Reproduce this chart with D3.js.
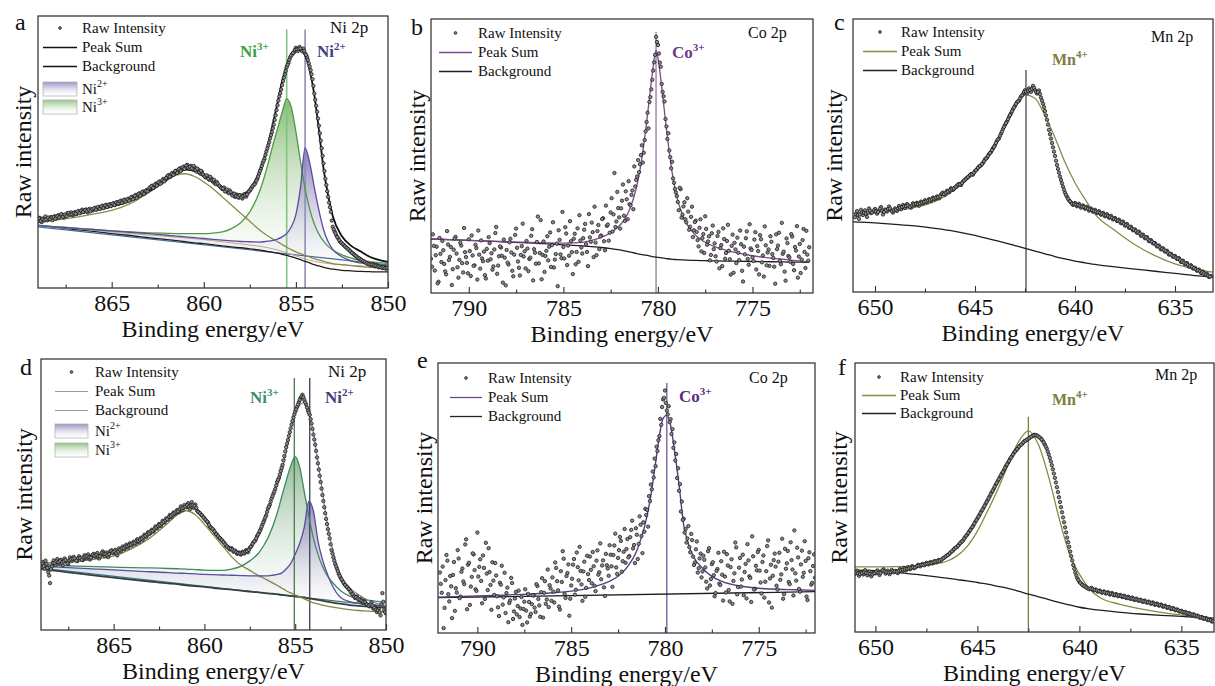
<!DOCTYPE html>
<html>
<head>
<meta charset="utf-8">
<script src="https://cdn.jsdelivr.net/npm/d3@7"></script>
<style>
  body { margin: 0; background: #fff; }
  svg, svg text { font-family: "Liberation Serif", "Times New Roman", serif; }
</style>
</head>
<body>
<script>
var FONT = '"Liberation Serif", "Times New Roman", serif';

// ---- fitted curves (intensity in a.u., 0 = frame bottom, 100 = frame top)
var niGrid = [869, 868, 867, 866, 865, 864, 863, 862, 861.5, 861, 860.5, 860, 859.5, 859, 858.5, 858, 857.5, 857,
  856.75, 856.5, 856.25, 856, 855.75, 855.5, 855.25, 855, 854.75, 854.5, 854.25, 854, 853.75, 853.5, 853.25, 853,
  852.5, 852, 851.5, 851, 850.5, 850];

var sumA = [25, 26, 27.5, 28.7, 30, 32, 35.5, 40, 42, 43.5, 43, 41, 39, 37, 35.3, 34.3, 36.5, 42.5, 47.5, 53, 60.5, 68,
  76, 82, 86, 87.5, 87.5, 85.5, 80, 71, 58, 44, 34, 26.5, 19, 15.5, 13.5, 11.5, 10.3, 9.6];
var bgA = [23, 22.3, 21.5, 20.8, 20, 19.3, 18.5, 17.8, 17.4, 17, 16.6, 16.3, 15.9, 15.5, 15.1, 14.8, 14.4, 14, 13.7,
  13.4, 13.1, 12.8, 12.4, 12, 11.5, 11, 10.4, 9.8, 9.2, 8.6, 8.1, 7.6, 7.2, 6.9, 6.5, 6.3, 6.1, 6, 5.9, 5.9];
var ni3A = [23, 22.5, 22, 21.5, 21, 20.6, 20.3, 20.1, 20, 20, 20, 20, 20.2, 20.6, 21.8, 24, 28, 35, 40, 46, 52.5, 58.5,
  64.5, 69.5, 66.5, 57.5, 46.5, 36.5, 29, 23.5, 19.8, 17.2, 15.3, 14, 12.2, 11, 10.2, 9.7, 9.3, 9];
var ni2A = [23, 22.5, 22, 21.5, 21, 20.5, 20, 19.4, 19.1, 18.8, 18.5, 18.2, 17.9, 17.6, 17.3, 17.1, 17, 16.9, 17, 17.2,
  17.5, 18, 18.8, 20, 22.5, 27, 37, 51.5, 46, 37, 28.5, 21.5, 17, 14.2, 11.5, 10, 9.2, 8.7, 8.3, 8];
var satA = [24, 25, 26, 27.2, 28.5, 31, 35, 39.5, 41.5, 42, 41, 39, 36.5, 33.5, 30.5, 27.5, 24.5, 21.5, 20.2, 19, 18,
  17, 16, 15, 14.1, 13.3, 12.6, 12, 11.4, 10.8, 10.3, 9.8, 9.4, 9, 8.6, 8.2, 7.9, 7.6, 7.4, 7.3];
var tanA = [23, 22.4, 21.8, 21.2, 20.6, 20, 19.5, 19, 18.7, 18.4, 18.1, 17.8, 17.4, 17, 16.6, 16.2, 15.8, 15.4, 15.1,
  14.8, 14.4, 14, 13.5, 13, 12.4, 11.8, 11.2, 10.7, 10.2, 9.8, 9.5, 9.2, 9, 8.8, 8.5, 8.3, 8.1, 8, 7.9, 7.8];

var sumD = [24.5, 25.3, 26, 26.8, 28, 31, 35, 40.5, 43, 45, 44.5, 41.5, 37, 33, 30, 28.5, 30, 36, 40.5, 45, 49, 53, 58,
  65.5, 74, 80, 83, 84, 80, 73, 62, 51, 40, 31.5, 20, 15.5, 13, 11, 9.8, 9];
var bgD = [22.5, 21.7, 20.9, 20.1, 19.3, 18.6, 17.9, 17.2, 16.9, 16.5, 16.2, 15.9, 15.5, 15.2, 14.9, 14.5, 14.2, 13.9,
  13.7, 13.5, 13.4, 13.2, 13, 12.8, 12.6, 12.4, 12.2, 12, 11.7, 11.4, 11.1, 10.8, 10.5, 10.2, 9.7, 9.2, 8.9, 8.6, 8.4, 8.2];
var ni3D = [24, 23.8, 23.6, 23.4, 23.2, 23, 22.9, 22.7, 22.6, 22.5, 22.3, 22.1, 22, 22, 22.5, 23.5, 25.5, 28.5, 31, 34,
  38, 43, 49, 55, 60.5, 64, 60, 51, 42, 34, 28, 23.5, 20.2, 18, 14.5, 12.5, 11.6, 11, 10.6, 10.3];
var ni2D = [23.5, 23.2, 22.8, 22.5, 22.2, 21.8, 21.5, 21.2, 21, 20.9, 20.7, 20.5, 20.4, 20.3, 20.2, 20.1, 20, 20, 20, 20,
  20.2, 20.5, 21, 22.5, 24.5, 28, 32, 38, 47.5, 44, 33, 26, 21, 17, 12, 10.5, 9.9, 9.5, 9.2, 9];
var satD = [24, 24.6, 25.3, 26.2, 27.3, 30, 34, 39.5, 42.5, 44, 42.5, 39, 35, 31, 27, 24, 22, 20, 19.2, 18.3, 17.4,
  16.5, 15.5, 14.5, 13.7, 13, 12.2, 11.5, 10.7, 10, 9.6, 9.2, 8.8, 8.5, 8, 7.5, 7.2, 7, 6.8, 6.6];

var linGrid = [869, 850];
var linA = [22.5, 8.5];
var linD = [22.8, 8.6];

var coGridB = [792, 790, 788, 786, 785, 784, 783.5, 783, 782.5, 782, 781.75, 781.5, 781.25, 781, 780.75, 780.5, 780.3,
  780.1, 779.9, 779.7, 779.5, 779.25, 779, 778.75, 778.5, 778, 777.5, 777, 776, 775, 774, 773, 772];
var sumB = [19.7, 19.2, 18.7, 18.3, 18.2, 18.5, 19.2, 20.3, 22, 24.8, 27, 30.5, 35.5, 43, 54, 68, 80, 88.5, 81, 69, 57,
  44, 35, 29.5, 25.5, 21, 18.5, 16.9, 14.9, 13.6, 12.7, 12, 11.4];
var bgB = [19.7, 19.2, 18.6, 18, 17.6, 17.2, 16.9, 16.6, 16.2, 15.7, 15.4, 15, 14.6, 14.2, 13.9, 13.6, 13.3, 13.1, 12.9,
  12.7, 12.5, 12.3, 12.2, 12.1, 12, 11.9, 11.8, 11.7, 11.6, 11.5, 11.4, 11.3, 11.2];

var coGridE = [792.1, 790, 788, 786, 785, 784, 783, 782.5, 782, 781.5, 781.25, 781, 780.75, 780.5, 780.25, 780.1, 779.9,
  779.7, 779.5, 779.25, 779, 778.75, 778.5, 778, 777.5, 777, 776, 775, 774, 773, 772];
var sumE = [13.3, 13.7, 14.2, 14.9, 15.5, 16.7, 19, 21, 24.5, 30.5, 35.5, 42, 51, 63, 75, 79.5, 80.7, 77, 68, 55, 40,
  33, 28.5, 24, 21, 19.2, 17.4, 16.6, 16.2, 16, 15.8];
var bgGridE = [792.1, 772];
var bgE = [13.1, 15.3];

var mnGridC = [651.1, 650, 649, 648, 647, 646, 645.5, 645, 644.5, 644, 643.5, 643, 642.5, 642, 641.5, 641, 640.5, 640,
  639.5, 639, 638, 637, 636, 635, 634, 633.1];
var sumC = [28.9, 29.3, 29.8, 31, 33.2, 37.5, 40.5, 44, 48.5, 54, 61, 68, 72.2, 71, 64.5, 56.5, 47.5, 40, 34, 28.5, 22.5,
  17.3, 13.3, 10.3, 8.4, 7.3];
var bgC = [25.7, 25.3, 24.8, 24.2, 23.3, 22.2, 21.5, 20.7, 19.8, 18.9, 18, 17, 16, 15, 14, 13, 12.1, 11.3, 10.7, 10.1,
  9.2, 8.4, 7.6, 6.8, 6, 5.5];

var mnGridF = [651, 650, 649, 648, 647, 646.5, 646, 645.5, 645, 644.5, 644, 643.5, 643, 642.5, 642, 641.5, 641, 640.5,
  640, 639.5, 639, 638, 637, 636, 635, 634, 633.4];
var sumF = [24.2, 24.2, 24.3, 24.6, 25.3, 26.3, 28.3, 31.8, 37.5, 45, 53, 62, 70.5, 74.8, 69.5, 57.5, 42.5, 29.4, 21.5,
  16, 12.8, 10.3, 8.6, 7.3, 6.3, 5.6, 5.2];
var bgF = [23, 22.8, 22.2, 21.4, 20.5, 20, 19.5, 19, 18.4, 17.8, 17, 16.2, 15.2, 14.1, 13.1, 12, 11, 10.1, 9.2, 8.6,
  8.1, 7.3, 6.7, 6.2, 5.8, 5.4, 5.2];

// ---- raw intensity, one value every 0.1 eV from the start energy downwards
// (two sweeps per spectrum, the second offset by half a step)
var rawStep = 0.1;
var rawStartA = 869;
var rawA = [24.5, 25.8, 24.2, 25.6, 26.3, 24.9, 25.4, 26.1, 25.0, 26.4,
  25.7, 26.8, 26.2, 27.0, 25.9, 26.6, 27.5, 26.9, 27.8, 26.7,
  27.9, 27.2, 28.3, 27.6, 28.8, 28.0, 28.9, 27.8, 29.1, 28.4,
  28.6, 29.5, 28.9, 29.8, 29.2, 30.3, 29.6, 30.6, 29.9, 30.8,
  30.4, 31.2, 30.7, 31.6, 31.0, 32.1, 31.4, 32.5, 31.9, 32.8,
  32.4, 33.5, 32.9, 34.2, 33.6, 34.8, 34.3, 35.5, 34.9, 36.0,
  36.2, 36.8, 37.6, 37.1, 38.4, 38.0, 39.2, 38.7, 40.1, 39.6,
  40.8, 41.5, 41.0, 42.3, 42.0, 43.1, 42.6, 44.0, 43.5, 44.6,
  44.2, 45.3, 43.8, 44.9, 43.6, 44.4, 42.8, 43.5, 42.1, 42.7,
  41.5, 40.6, 41.2, 39.8, 40.3, 39.1, 38.5, 39.0, 37.8, 37.2,
  36.4, 36.9, 35.8, 35.2, 35.9, 34.6, 34.1, 33.5, 34.3, 33.2,
  33.8, 32.9, 34.5, 33.6, 35.1, 35.8, 36.9, 37.8, 38.6, 40.1,
  42.0, 43.8, 46.0, 47.5, 50.2, 52.4, 55.0, 57.3, 60.1, 63.5,
  67.2, 70.4, 73.0, 76.1, 78.5, 81.2, 82.8, 84.9, 86.0, 86.7,
  88.3, 87.1, 88.6, 87.4, 88.0, 86.2, 85.0, 82.6, 80.1, 76.8,
  71.5, 67.0, 62.3, 56.9, 51.4, 45.8, 40.2, 35.6, 31.4, 28.0,
  22.5, 20.8, 19.3, 18.2, 17.0, 16.4, 15.8, 15.1, 14.5, 13.9,
  13.2, 12.6, 12.1, 11.5, 11.0, 10.6, 10.1, 9.7, 9.3, 9.0,
  8.7, 8.4, 8.8, 8.0, 8.3, 7.6, 7.9, 7.3, 7.7, 7.1,
  7.5];
var rawStartA2 = 868.95;
var rawA2 = [25.6, 24.7, 25.3, 25.0, 25.2, 25.9, 25.3, 25.9, 26.1, 25.5,
  26.4, 25.9, 27.1, 26.2, 27.0, 26.4, 27.6, 27.0, 27.1, 27.5,
  27.3, 28.1, 27.5, 28.4, 27.9, 28.6, 28.2, 28.8, 28.2, 29.0,
  29.3, 28.8, 29.7, 29.1, 30.0, 29.4, 30.4, 29.8, 30.6, 30.1,
  31.0, 30.5, 31.4, 31.1, 31.8, 31.3, 32.3, 31.8, 32.6, 32.1,
  33.3, 32.6, 33.9, 33.0, 34.6, 34.0, 35.2, 34.6, 35.7, 35.5,
  36.9, 37.4, 36.8, 38.0, 37.6, 38.9, 38.3, 39.6, 39.2, 40.4,
  41.3, 40.9, 42.0, 41.6, 43.0, 42.3, 43.7, 43.0, 44.4, 43.8,
  45.0, 44.3, 44.6, 44.0, 44.9, 43.4, 43.9, 42.6, 43.1, 41.8,
  41.0, 41.4, 40.2, 40.9, 39.6, 39.8, 38.2, 38.4, 37.5, 36.8,
  36.6, 35.5, 36.2, 34.9, 35.3, 34.0, 34.7, 33.9, 33.5, 34.1,
  33.3, 33.9, 34.1, 34.4, 35.5, 36.3, 37.4, 38.1, 39.5, 41.0,
  43.0, 44.9, 46.8, 48.9, 51.3, 53.6, 56.2, 58.7, 61.8, 65.4,
  68.9, 71.6, 74.6, 77.3, 79.8, 82.0, 83.9, 85.5, 86.4, 87.6,
  87.8, 87.9, 88.1, 87.0, 87.2, 85.7, 83.9, 81.4, 78.6, 74.3,
  69.2, 64.8, 59.7, 54.2, 48.6, 43.0, 37.9, 33.5, 29.7, 24.8,
  21.6, 20.1, 18.7, 17.6, 16.7, 16.1, 15.4, 14.8, 14.2, 13.5,
  12.9, 12.3, 11.8, 11.2, 10.8, 10.3, 9.9, 9.5, 9.1, 8.8,
  8.6, 8.6, 8.3, 8.2, 7.9, 7.8, 7.5, 7.6, 7.3, 7.4];

var rawStartD = 869;
var rawD = [23.8, 25.1, 22.6, 24.4, 21.3, 17.3, 23.5, 25.7, 24.0, 26.2,
  24.6, 25.9, 23.9, 26.4, 25.2, 24.4, 26.8, 25.5, 27.0, 26.1,
  25.4, 27.2, 26.3, 25.8, 27.6, 26.5, 27.9, 26.0, 27.3, 28.1,
  27.0, 28.4, 26.4, 27.8, 29.0, 27.3, 28.6, 26.9, 28.9, 29.4,
  28.3, 29.6, 27.5, 30.1, 29.0, 30.8, 29.9, 31.5, 30.4, 32.0,
  31.2, 32.6, 31.8, 33.5, 32.4, 34.1, 33.3, 35.2, 34.4, 36.1,
  35.6, 37.0, 36.3, 38.2, 37.5, 39.1, 38.4, 40.3, 39.6, 41.2,
  40.8, 42.5, 41.6, 43.4, 42.7, 44.3, 43.5, 45.6, 44.2, 46.1,
  45.3, 46.8, 44.6, 47.2, 45.1, 46.3, 44.0, 43.4, 42.7, 42.0,
  41.2, 40.3, 39.6, 38.2, 37.5, 36.9, 35.8, 35.1, 34.2, 33.6,
  32.8, 32.1, 31.0, 30.6, 29.7, 30.2, 28.9, 29.3, 28.1, 28.6,
  27.8, 28.9, 28.2, 29.5, 28.7, 30.3, 31.1, 32.4, 33.0, 34.6,
  35.8, 37.2, 39.0, 40.6, 42.3, 44.8, 46.2, 48.5, 50.3, 52.0,
  54.6, 56.1, 58.7, 60.9, 64.2, 67.5, 70.1, 73.0, 75.8, 78.4,
  80.5, 82.3, 84.1, 85.6, 86.8, 84.9, 83.2, 81.0, 79.4, 76.2,
  72.1, 68.4, 63.7, 59.2, 54.6, 49.8, 45.3, 41.0, 37.2, 33.8,
  29.5, 26.8, 24.4, 22.6, 20.7, 19.3, 18.1, 17.0, 16.2, 15.5,
  14.8, 13.6, 12.9, 11.8, 12.4, 10.9, 11.5, 10.1, 10.8, 9.6,
  9.3, 8.7, 10.2, 7.9, 8.5, 6.6, 7.8, 5.4, 13.6, 7.2,
  6.1];
var rawStartD2 = 868.95;
var rawD2 = [24.5, 23.6, 25.6, 22.9, 20.1, 22.4, 24.7, 24.8, 25.3, 25.1,
  25.4, 24.8, 25.3, 25.8, 24.6, 25.7, 26.1, 26.3, 26.4, 25.6,
  26.5, 26.6, 25.9, 26.8, 27.1, 27.2, 26.8, 26.7, 27.8, 27.4,
  27.6, 27.2, 27.2, 28.5, 28.1, 28.0, 27.6, 28.0, 29.2, 28.7,
  29.0, 28.4, 28.9, 29.6, 30.1, 30.2, 30.8, 30.9, 31.3, 31.5,
  32.0, 32.1, 32.8, 32.9, 33.3, 33.7, 34.4, 34.8, 35.3, 35.7,
  36.4, 36.6, 37.3, 37.8, 38.4, 38.8, 39.4, 40.0, 40.5, 40.9,
  41.8, 42.0, 42.6, 43.1, 43.6, 43.8, 44.6, 44.9, 45.2, 45.5,
  46.1, 45.6, 46.0, 46.0, 45.8, 45.1, 43.6, 43.1, 42.4, 41.5,
  40.7, 40.0, 38.8, 37.9, 37.3, 36.4, 35.4, 34.6, 33.9, 33.2,
  32.4, 31.6, 30.8, 30.2, 29.9, 29.6, 29.1, 28.7, 28.4, 28.2,
  28.3, 28.6, 28.9, 29.1, 29.6, 30.7, 31.8, 32.7, 33.8, 35.2,
  36.5, 38.1, 39.8, 41.5, 43.6, 45.5, 47.4, 49.4, 51.1, 53.3,
  55.4, 57.4, 59.8, 62.6, 65.9, 68.8, 71.6, 74.4, 77.1, 79.5,
  81.4, 83.2, 84.9, 86.2, 85.9, 84.0, 82.1, 80.2, 77.8, 74.2,
  70.3, 66.1, 61.5, 56.9, 52.2, 47.6, 43.1, 39.1, 35.5, 31.6,
  28.2, 25.6, 23.5, 21.7, 20.0, 18.7, 17.6, 16.6, 15.9, 15.1,
  14.2, 13.2, 12.3, 12.1, 11.6, 11.2, 10.8, 10.4, 10.2, 9.4,
  9.0, 9.4, 9.0, 8.2, 7.5, 7.2, 6.6, 9.5, 10.4, 6.6];

var rawStartB = 792;
var rawB = [12.5, 21.4, 8.2, 16.9, 4.1, 14.3, 19.0, 10.6, 6.8, 17.7,
  13.2, 2.9, 15.8, 20.5, 9.4, 12.1, 17.3, 7.5, 14.9, 11.0,
  19.6, 6.2, 13.7, 10.1, 16.4, 22.8, 8.9, 12.6, 15.1, 5.3,
  11.8, 18.2, 14.5, 9.7, 21.9, 7.0, 13.4, 16.6, 3.8, 12.9,
  15.7, 10.4, 19.8, 8.1, 14.0, 23.5, 11.5, 6.4, 17.1, 13.3,
  9.0, 16.2, 12.4, 20.9, 4.6, 14.7, 18.6, 10.8, 26.6, 13.9,
  7.7, 15.4, 11.9, 22.1, 17.5, 9.3, 14.2, 2.5, 19.4, 12.7,
  16.8, 24.0, 10.2, 13.6, 18.9, 6.9, 21.6, 15.0, 11.4, 19.2,
  14.4, 23.1, 17.8, 9.8, 20.3, 25.7, 13.1, 18.4, 22.6, 16.0,
  21.0, 27.3, 15.6, 24.5, 19.1, 29.4, 22.4, 43.8, 26.1, 31.0,
  23.5, 33.7, 28.2, 37.1, 26.9, 32.4, 35.8, 30.6, 38.9, 42.5,
  44.1, 50.3, 47.6, 55.8, 62.4, 60.1, 71.5, 77.8, 84.2, 93.5,
  90.5, 84.1, 76.3, 71.8, 63.5, 56.2, 52.0, 45.5, 41.8, 38.0,
  35.4, 30.2, 37.9, 28.6, 33.1, 25.8, 29.7, 24.2, 31.5, 22.9,
  26.4, 19.3, 23.8, 15.2, 21.5, 28.0, 17.6, 20.7, 13.9, 24.6,
  18.1, 11.5, 22.3, 16.4, 9.8, 19.7, 14.6, 24.9, 12.3, 17.2,
  7.4, 15.9, 20.2, 12.0, 17.8, 4.2, 14.1, 22.5, 10.3, 16.3,
  13.0, 19.5, 8.6, 15.3, 21.1, 11.2, 6.0, 17.4, 14.8, 9.9,
  18.7, 12.8, 3.4, 16.0, 22.0, 10.5, 14.3, 7.8, 19.9, 13.5,
  11.4, 20.6, 8.3, 15.5, 5.6, 17.9, 12.2, 23.4, 9.1, 14.0,
  16.7];
var rawStartB2 = 791.95;
var rawB2 = [9.6, 17.2, 13.8, 3.5, 20.1, 11.3, 15.6, 7.9, 22.6, 12.0,
  16.8, 8.7, 19.9, 14.4, 5.6, 18.3, 10.9, 23.7, 13.1, 7.2,
  15.3, 21.0, 9.9, 17.6, 4.9, 14.0, 19.2, 11.6, 6.5, 16.1,
  20.4, 12.3, 8.5, 15.9, 24.1, 10.0, 17.0, 13.6, 19.5, 2.8,
  11.1, 18.5, 14.8, 6.1, 21.2, 16.5, 9.2, 13.9, 25.3, 15.2,
  19.0, 8.0, 12.9, 23.3, 16.0, 10.7, 27.9, 14.6, 5.0, 18.8,
  13.5, 20.7, 16.9, 9.5, 25.8, 12.2, 18.0, 22.9, 14.1, 29.6,
  12.6, 21.7, 17.3, 26.2, 14.9, 19.8, 10.5, 23.6, 28.4, 16.6,
  20.0, 25.2, 15.0, 28.8, 18.7, 22.2, 31.5, 13.8, 24.8, 20.6,
  27.0, 18.9, 31.9, 25.0, 22.0, 34.6, 28.7, 24.1, 36.9, 27.6,
  30.9, 39.6, 26.3, 34.2, 40.8, 32.0, 37.4, 46.2, 41.3, 48.5,
  47.0, 53.9, 51.2, 59.0, 65.8, 69.7, 74.3, 81.2, 86.9, 91.6,
  87.4, 82.6, 73.4, 69.9, 60.8, 58.3, 49.6, 47.9, 40.2, 36.7,
  33.2, 38.4, 27.5, 31.6, 26.9, 34.6, 23.1, 27.8, 20.4, 25.9,
  22.3, 17.0, 26.9, 20.1, 14.6, 23.4, 18.8, 11.9, 21.8, 16.0,
  13.4, 20.8, 9.0, 17.5, 23.6, 12.5, 19.0, 15.4, 6.7, 21.3,
  18.3, 10.9, 14.7, 22.8, 8.1, 16.9, 20.0, 12.4, 25.1, 15.7,
  11.7, 22.2, 17.1, 6.8, 19.6, 13.7, 24.3, 10.1, 15.9, 20.7,
  14.2, 9.6, 21.4, 17.3, 11.8, 25.6, 15.1, 4.5, 18.2, 13.0,
  21.5, 10.6, 16.8, 24.4, 13.3, 7.3, 19.3, 15.0, 22.7, 11.8];

var rawStartE = 792;
var rawE = [22.4, 14.9, 1.8, 19.6, 26.8, 11.7, 17.3, 21.5, 8.2, 15.0,
  27.6, 13.5, 23.9, 18.1, 34.7, 25.3, 10.4, 20.8, 29.1, 16.2,
  37.2, 24.5, 19.3, 28.7, 12.6, 22.0, 31.4, 17.8, 26.2, 14.1,
  21.3, 9.5, 18.6, 24.9, 13.2, 7.4, 16.8, 11.1, 20.4, 5.2,
  12.8, 6.9, 15.7, 9.1, 3.0, 11.6, 8.3, 14.5, 6.1, 10.7,
  13.9, 7.8, 17.4, 10.2, 15.1, 5.7, 19.2, 12.4, 9.6, 16.5,
  20.6, 11.3, 24.1, 15.8, 8.7, 18.9, 27.5, 13.0, 22.2, 6.4,
  17.6, 25.3, 14.2, 29.8, 19.5, 23.0, 11.9, 26.4, 16.7, 21.8,
  28.3, 18.4, 24.7, 15.5, 30.6, 22.5, 19.9, 26.9, 13.7, 25.1,
  21.2, 29.0, 17.1, 32.4, 24.3, 27.8, 35.6, 22.7, 30.1, 26.0,
  34.8, 28.5, 38.2, 31.3, 25.9, 36.4, 33.0, 40.1, 29.6, 37.5,
  43.7, 39.4, 48.9, 53.2, 57.6, 61.8, 67.4, 72.9, 77.1, 86.5,
  89.8, 82.4, 84.0, 79.2, 75.5, 70.6, 66.3, 61.0, 55.1, 48.7,
  42.3, 38.5, 35.0, 31.8, 36.7, 28.3, 26.1, 33.9, 24.0, 29.4,
  22.8, 27.1, 19.0, 30.3, 17.6, 25.5, 21.4, 14.8, 23.7, 18.3,
  26.6, 12.0, 20.9, 29.2, 15.9, 24.4, 10.8, 22.1, 31.7, 17.0,
  27.8, 19.8, 14.0, 25.6, 32.9, 21.0, 11.5, 28.4, 16.4, 23.2,
  30.8, 18.7, 26.3, 13.1, 22.9, 34.3, 20.2, 9.4, 27.0, 24.6,
  16.1, 29.7, 21.7, 12.7, 31.2, 25.8, 18.9, 33.6, 23.5, 38.0,
  19.4, 28.0, 15.3, 30.5, 22.3, 26.7, 12.2, 29.9, 17.9, 24.8,
  20.5];
var rawStartE2 = 791.95;
var rawE2 = [18.2, 24.6, 9.3, 28.9, 14.4, 21.1, 5.5, 26.3, 16.6, 30.7,
  12.9, 22.7, 19.1, 32.8, 8.8, 26.0, 17.2, 29.5, 23.3, 15.6,
  20.9, 27.3, 11.0, 24.1, 33.4, 15.9, 22.6, 8.6, 19.4, 25.9,
  13.6, 6.3, 17.9, 10.5, 22.3, 14.8, 4.0, 12.1, 18.5, 8.0,
  15.2, 10.0, 5.9, 13.3, 8.9, 16.2, 3.9, 11.5, 7.1, 14.0,
  9.4, 18.1, 12.6, 6.0, 20.3, 14.9, 10.8, 23.5, 17.7, 11.9,
  15.3, 26.1, 19.2, 9.8, 22.9, 30.3, 14.5, 21.1, 25.4, 12.7,
  20.1, 27.4, 16.0, 24.4, 31.9, 18.0, 22.8, 13.4, 28.6, 19.6,
  23.4, 30.0, 17.5, 26.8, 21.6, 33.2, 25.0, 16.9, 29.3, 23.9,
  32.5, 24.7, 28.9, 36.8, 21.9, 30.7, 34.1, 26.6, 38.5, 31.1,
  28.0, 35.5, 41.6, 32.6, 38.8, 27.4, 43.2, 35.9, 41.0, 46.0,
  45.6, 50.7, 55.0, 59.8, 64.6, 69.0, 71.4, 79.3, 83.7, 87.1,
  85.2, 81.0, 78.1, 73.7, 68.6, 63.9, 57.4, 52.7, 45.0, 41.9,
  37.2, 33.5, 39.6, 29.9, 34.4, 25.2, 31.0, 22.4, 27.6, 20.6,
  28.6, 24.3, 16.5, 31.4, 20.0, 26.2, 13.6, 23.0, 29.7, 17.8,
  21.6, 30.1, 15.0, 25.0, 11.7, 27.3, 19.3, 33.5, 14.3, 24.2,
  17.2, 29.0, 22.6, 12.8, 26.9, 20.4, 35.8, 16.1, 24.9, 30.0,
  23.1, 14.6, 28.7, 19.0, 32.2, 11.3, 25.3, 21.2, 29.4, 17.5,
  26.4, 19.7, 34.9, 14.4, 23.8, 30.4, 18.1, 27.0, 13.9, 22.1,
  31.6, 16.3, 25.4, 20.8, 34.0, 13.5, 27.7, 22.9, 18.6, 29.1];

var rawStartC = 651;
var rawC = [27.4, 29.6, 26.8, 30.1, 28.2, 29.9, 27.5, 30.6, 28.9, 29.3,
  30.4, 28.7, 29.8, 31.1, 28.4, 30.2, 29.5, 31.3, 30.0, 29.1,
  30.6, 29.7, 31.5, 30.3, 31.9, 30.8, 32.2, 31.4, 30.9, 32.5,
  31.8, 32.7, 31.6, 33.1, 32.4, 33.6, 32.9, 34.0, 33.4, 34.6,
  33.9, 35.0, 34.3, 35.7, 36.4, 35.6, 37.1, 36.5, 38.0, 37.4,
  38.3, 38.9, 39.6, 39.2, 40.5, 41.1, 41.8, 42.4, 43.2, 43.0,
  44.3, 45.0, 45.9, 46.4, 47.3, 48.6, 49.2, 50.5, 51.3, 52.6,
  53.8, 55.4, 56.3, 58.0, 59.7, 61.2, 62.5, 64.1, 65.4, 67.0,
  68.2, 69.5, 70.1, 71.6, 72.4, 73.9, 72.8, 74.6, 73.3, 75.5,
  74.0, 72.7, 73.8, 71.2, 69.0, 66.3, 63.1, 59.4, 56.2, 53.0,
  49.8, 46.5, 43.7, 41.0, 38.6, 36.4, 34.9, 33.6, 32.8, 31.9,
  32.6, 31.4, 32.3, 30.9, 31.7, 30.5, 31.2, 29.8, 30.6, 29.4,
  30.1, 28.9, 29.6, 28.3, 29.0, 27.7, 28.5, 27.2, 27.9, 26.6,
  27.1, 26.0, 26.5, 25.2, 25.8, 24.3, 24.9, 23.5, 23.9, 22.6,
  22.9, 21.7, 22.1, 20.6, 21.0, 19.7, 20.1, 18.6, 19.0, 17.8,
  17.9, 16.7, 17.0, 15.6, 16.0, 14.8, 15.1, 13.7, 14.0, 12.9,
  13.2, 12.1, 12.4, 11.0, 11.5, 10.2, 10.6, 9.3, 9.8, 8.6,
  8.9, 7.8, 8.2, 7.0, 7.5, 6.2, 6.7, 5.5, 5.9];
var rawStartC2 = 650.95;
var rawC2 = [28.5, 28.2, 28.4, 29.2, 29.0, 28.7, 29.1, 29.8, 29.1, 29.9,
  29.6, 29.3, 30.5, 29.8, 29.3, 29.9, 30.4, 30.6, 29.6, 29.9,
  30.2, 30.6, 30.9, 31.1, 31.4, 31.5, 31.8, 31.2, 31.7, 32.1,
  32.3, 32.2, 32.4, 32.8, 33.0, 33.2, 33.5, 33.7, 34.0, 34.2,
  34.5, 34.7, 35.0, 36.1, 35.9, 36.4, 36.8, 37.3, 37.7, 37.9,
  38.6, 39.3, 39.4, 39.9, 40.8, 41.5, 42.1, 42.8, 43.1, 43.7,
  44.6, 45.5, 46.2, 46.9, 47.9, 48.9, 49.9, 50.9, 52.0, 53.2,
  54.6, 55.9, 57.2, 58.8, 60.5, 61.9, 63.3, 64.8, 66.2, 67.6,
  68.9, 69.8, 70.9, 72.0, 73.2, 73.4, 73.7, 74.0, 74.4, 74.8,
  73.3, 73.2, 72.5, 70.1, 67.7, 64.7, 61.3, 57.8, 54.6, 51.4,
  48.1, 45.1, 42.3, 39.8, 37.5, 35.6, 34.2, 33.2, 32.3, 32.2,
  32.0, 31.8, 31.6, 31.3, 31.1, 30.8, 30.5, 30.2, 30.0, 29.7,
  29.5, 29.2, 28.9, 28.7, 28.3, 28.1, 27.8, 27.5, 27.2, 26.8,
  26.5, 26.2, 25.8, 25.5, 25.0, 24.6, 24.2, 23.7, 23.2, 22.8,
  22.3, 21.9, 21.4, 20.8, 20.3, 19.9, 19.3, 18.8, 18.4, 17.9,
  17.3, 16.8, 16.3, 15.8, 15.4, 14.9, 14.4, 13.9, 13.4, 13.0,
  12.6, 12.2, 11.7, 11.2, 10.8, 10.4, 9.9, 9.5, 9.2, 8.7,
  8.3, 8.0, 7.6, 7.2, 6.8, 6.4, 6.0, 5.6];

var rawStartF = 651;
var rawF = [21.6, 22.8, 20.9, 22.3, 21.4, 23.0, 21.1, 22.5, 20.7, 22.0,
  21.8, 22.9, 21.2, 22.6, 23.3, 21.7, 22.8, 21.5, 23.1, 22.2,
  22.7, 21.9, 23.4, 22.5, 23.8, 22.9, 24.1, 23.3, 24.5, 23.7,
  24.2, 25.0, 24.4, 25.3, 24.8, 25.7, 25.1, 26.0, 25.5, 26.4,
  26.0, 26.8, 26.5, 27.3, 27.8, 28.4, 28.9, 29.7, 30.3, 31.2,
  31.6, 32.5, 33.4, 34.1, 35.3, 36.2, 37.4, 38.5, 39.6, 41.0,
  42.2, 43.5, 44.9, 46.1, 47.6, 49.0, 50.4, 51.9, 53.2, 54.8,
  56.1, 57.5, 58.9, 60.2, 61.7, 62.9, 64.3, 65.4, 66.7, 67.6,
  68.5, 69.4, 70.0, 70.9, 71.3, 71.8, 72.4, 72.9, 73.3, 73.1,
  72.6, 72.0, 71.1, 69.8, 68.2, 66.0, 63.4, 60.5, 57.3, 53.8,
  50.1, 46.4, 42.6, 38.9, 35.1, 31.7, 28.2, 24.9, 22.1, 20.0,
  18.6, 17.9, 17.2, 16.8, 16.3, 15.9, 16.4, 15.5, 15.8, 15.0,
  15.4, 14.6, 15.1, 14.3, 14.8, 13.9, 14.5, 13.6, 14.1, 13.3,
  13.8, 13.0, 13.5, 12.6, 13.1, 12.3, 12.8, 11.9, 12.4, 11.6,
  12.0, 11.2, 11.7, 10.9, 11.3, 10.5, 11.0, 10.1, 10.6, 9.8,
  10.2, 9.4, 9.8, 9.0, 9.3, 8.5, 8.9, 8.1, 8.4, 7.6,
  7.9, 7.2, 7.5, 6.7, 7.0, 6.2, 6.6, 5.8, 6.1, 5.3,
  5.6, 4.9, 5.2, 4.4, 4.7, 3.9, 4.2];
var rawStartF2 = 650.95;
var rawF2 = [22.2, 21.8, 21.6, 21.9, 22.2, 22.0, 21.8, 21.6, 21.4, 21.9,
  22.4, 22.0, 21.9, 22.9, 22.5, 22.3, 22.1, 22.3, 22.6, 22.5,
  22.3, 22.7, 23.0, 23.2, 23.3, 23.5, 23.7, 23.9, 24.1, 24.0,
  24.6, 24.7, 24.9, 25.0, 25.3, 25.4, 25.6, 25.7, 26.0, 26.2,
  26.4, 26.6, 26.9, 27.5, 28.1, 28.6, 29.3, 30.0, 30.8, 31.4,
  32.1, 33.0, 33.7, 34.7, 35.8, 36.8, 37.9, 39.0, 40.3, 41.6,
  42.9, 44.2, 45.5, 46.9, 48.3, 49.7, 51.2, 52.5, 54.0, 55.4,
  56.8, 58.2, 59.5, 61.0, 62.3, 63.6, 64.9, 66.0, 67.1, 68.0,
  69.0, 69.7, 70.5, 71.1, 71.6, 72.1, 72.6, 73.1, 73.2, 72.9,
  72.3, 71.6, 70.5, 69.0, 67.1, 64.7, 62.0, 58.9, 55.6, 52.0,
  48.3, 44.5, 40.8, 37.0, 33.4, 29.9, 26.6, 23.5, 21.0, 19.3,
  18.3, 17.5, 17.0, 16.5, 16.1, 16.1, 15.9, 15.6, 15.4, 15.2,
  15.0, 14.8, 14.7, 14.5, 14.3, 14.2, 14.0, 13.8, 13.7, 13.5,
  13.4, 13.2, 13.0, 12.8, 12.7, 12.5, 12.3, 12.1, 12.0, 11.8,
  11.6, 11.4, 11.3, 11.1, 10.9, 10.7, 10.5, 10.3, 10.2, 10.0,
  9.8, 9.6, 9.4, 9.2, 8.9, 8.7, 8.5, 8.2, 8.0, 7.7,
  7.5, 7.3, 7.1, 6.9, 6.6, 6.4, 6.2, 5.9, 5.7, 5.4,
  5.2, 5.0, 4.8, 4.5, 4.3, 4.0];

// ---- peak positions (eV) and axis ticks
var peaksA = [855.5, 854.5];
var peaksD = [855.05, 854.2];
var peaksB = [780.1];
var peaksE = [779.9];
var peaksC = [642.45];
var peaksF = [642.5];

var ticksNi = [865, 860, 855, 850], minorNi = [867.5, 862.5, 857.5, 852.5];
var ticksCo = [790, 785, 780, 775], minorCo = [787.5, 782.5, 777.5, 772.5];
var ticksMn = [650, 645, 640, 635], minorMn = [647.5, 642.5, 637.5];

var svg = d3.select('body').append('svg')
    .attr('width', 1215)
    .attr('height', 686)
    .attr('font-family', FONT);
var defs = svg.append('defs');

function gradient(id, color, op) {
  var lg = defs.append('linearGradient')
      .attr('id', id)
      .attr('x1', 0).attr('y1', 0).attr('x2', 0).attr('y2', 1);
  lg.append('stop').attr('offset', '0%').attr('stop-color', color).attr('stop-opacity', op);
  lg.append('stop').attr('offset', '100%').attr('stop-color', '#ffffff').attr('stop-opacity', 0.2);
}

gradient('gNi3a', '#6fb05c', 0.85);
gradient('gNi2a', '#6a5aa8', 0.8);
gradient('gNi3d', '#5f9a6a', 0.7);
gradient('gNi2d', '#66579e', 0.7);
gradient('sNi3', '#86bd78', 0.9);
gradient('sNi2', '#8e82bc', 0.9);

function ion(sel, base, sup, supSize) {
  sel.append('tspan').text(base);
  sel.append('tspan')
      .attr('dy', -7)
      .attr('font-size', supSize + 'px')
      .text(sup);
}

function dots(plot, x, y, values, start) {
  plot.append('g')
    .selectAll('circle')
    .data(values)
    .enter().append('circle')
      .attr('cx', function(d, i) { return x(+(start - i * rawStep).toFixed(2)); })
      .attr('cy', function(d) { return y(d); })
      .attr('r', 1.7)
      .attr('fill', '#8c8c8c')
      .attr('stroke', '#1c1c1c')
      .attr('stroke-width', 0.8);
}

function drawPanel(p) {
  var x = d3.scaleLinear().domain(p.domain).range([p.left, p.right]),
      y = d3.scaleLinear().domain([0, 100]).range([p.bottom, p.top]);

  defs.append('clipPath').attr('id', 'clip-' + p.id)
    .append('rect')
      .attr('x', p.left).attr('y', p.top)
      .attr('width', p.right - p.left)
      .attr('height', p.bottom - p.top);

  var g = svg.append('g').attr('class', 'panel-' + p.id);
  var plot = g.append('g').attr('clip-path', 'url(#clip-' + p.id + ')');

  var area = d3.area()
      .curve(d3.curveMonotoneX)
      .x(function(d) { return x(d[0]); })
      .y0(function(d) { return y(d[1]); })
      .y1(function(d) { return y(d[2]); });

  (p.fills || []).forEach(function(f) {
    plot.append('path')
        .datum(p.grid.map(function(e, i) { return [e, f.base[i], f.top[i]]; }))
        .attr('d', area)
        .attr('fill', 'url(#' + f.grad + ')');
  });

  p.markers.forEach(function(m) {
    plot.append('line')
        .attr('x1', x(m.e)).attr('x2', x(m.e))
        .attr('y1', y(m.top)).attr('y2', p.bottom)
        .attr('stroke', m.color)
        .attr('stroke-width', m.width);
  });

  var line = d3.line()
      .curve(d3.curveMonotoneX)
      .x(function(d) { return x(d[0]); })
      .y(function(d) { return y(d[1]); });

  p.lines.forEach(function(l) {
    plot.append('path')
        .datum(l.e.map(function(e, i) { return [e, l.v[i]]; }))
        .attr('d', line)
        .attr('fill', 'none')
        .attr('stroke', l.color)
        .attr('stroke-width', l.width);
  });

  dots(plot, x, y, p.raw, p.rawStart);
  if (p.raw2) {
    dots(plot, x, y, p.raw2, p.rawStart2);
  }

  // axis with inward ticks
  var ax = g.append('g')
      .attr('transform', 'translate(0,' + p.bottom + ')')
      .call(d3.axisBottom(x)
        .tickValues(p.ticks)
        .tickSizeInner(-6)
        .tickSizeOuter(0)
        .tickPadding(6)
        .tickFormat(d3.format('d')));
  ax.attr('font-family', FONT);
  ax.select('.domain').remove();
  ax.selectAll('line').attr('stroke', '#333').attr('stroke-width', 1.1);
  ax.selectAll('text')
      .attr('font-size', '24px')
      .attr('font-family', FONT)
      .attr('fill', '#111');

  var mx = g.append('g')
      .attr('transform', 'translate(0,' + p.bottom + ')')
      .call(d3.axisBottom(x)
        .tickValues(p.minor)
        .tickSize(-3.5)
        .tickFormat(''));
  mx.select('.domain').remove();
  mx.selectAll('line').attr('stroke', '#333').attr('stroke-width', 1.1);

  g.append('rect')
      .attr('x', p.left).attr('y', p.top)
      .attr('width', p.right - p.left)
      .attr('height', p.bottom - p.top)
      .attr('fill', 'none')
      .attr('stroke', '#3a3a3a')
      .attr('stroke-width', 1.3);

  g.append('text')
      .attr('x', (p.left + p.right) / 2)
      .attr('y', p.bottom + 49)
      .attr('text-anchor', 'middle')
      .attr('font-size', '24px')
      .attr('fill', '#111')
      .text('Binding energy/eV');

  g.append('text')
      .attr('transform', 'translate(' + p.yTitleX + ',' + ((p.top + p.bottom) / 2) + ') rotate(-90)')
      .attr('text-anchor', 'middle')
      .attr('font-size', '24px')
      .attr('fill', '#111')
      .text('Raw intensity');

  g.append('text')
      .attr('x', p.letter[0]).attr('y', p.letter[1])
      .attr('font-size', '24px')
      .attr('fill', '#111')
      .text(p.id);

  g.append('text')
      .attr('x', p.core.x).attr('y', p.core.y)
      .attr('font-size', p.core.size + 'px')
      .attr('fill', '#111')
      .text(p.core.text);

  p.ions.forEach(function(o) {
    var t = g.append('text')
        .attr('x', o.x).attr('y', o.y)
        .attr('font-size', o.size + 'px')
        .attr('font-weight', 'bold')
        .attr('fill', o.color);
    ion(t, o.base, o.sup, 11);
  });

  // legend
  var lg = p.legend;
  lg.rows.forEach(function(r) {
    if (r.kind === 'dot') {
      g.append('circle')
          .attr('cx', (lg.x0 + lg.x1) / 2).attr('cy', r.y - 5)
          .attr('r', 1.4)
          .attr('fill', '#777').attr('stroke', '#222').attr('stroke-width', 0.7);
    } else if (r.kind === 'line') {
      g.append('line')
          .attr('x1', lg.x0).attr('x2', lg.x1)
          .attr('y1', r.y - 4.5).attr('y2', r.y - 4.5)
          .attr('stroke', r.color)
          .attr('stroke-width', r.width);
    } else {
      g.append('rect')
          .attr('x', lg.x0).attr('y', r.y - 12)
          .attr('width', lg.x1 - lg.x0).attr('height', 14)
          .attr('fill', 'url(#' + r.grad + ')')
          .attr('stroke', '#b5b5b5').attr('stroke-width', 0.8);
    }
    var t = g.append('text')
        .attr('x', lg.tx).attr('y', r.y)
        .attr('font-size', '15px')
        .attr('fill', '#111');
    if (r.sup) {
      ion(t, r.label, r.sup, 10);
    } else {
      t.text(r.label);
    }
  });
}

drawPanel({
  id: 'a', left: 38, top: 16, right: 388, bottom: 288, domain: [869, 850],
  ticks: ticksNi, minor: minorNi, yTitleX: 31, letter: [15, 30],
  grid: niGrid,
  fills: [
    { base: bgA, top: ni3A, grad: 'gNi3a' },
    { base: bgA, top: ni2A, grad: 'gNi2a' }
  ],
  markers: [
    { e: peaksA[0], top: 95, color: '#82c482', width: 1.6 },
    { e: peaksA[1], top: 95, color: '#8c8cbc', width: 1.6 }
  ],
  lines: [
    { e: linGrid, v: linA, color: '#3f6d9e', width: 1.2 },
    { e: niGrid, v: bgA, color: '#1e1e1e', width: 1.3 },
    { e: niGrid, v: tanA, color: '#c6a784', width: 1 },
    { e: niGrid, v: satA, color: '#8d8a45', width: 1.3 },
    { e: niGrid, v: ni3A, color: '#4d9a45', width: 1.3 },
    { e: niGrid, v: ni2A, color: '#5a4ca0', width: 1.3 },
    { e: niGrid, v: sumA, color: '#111', width: 1.8 }
  ],
  raw: rawA, rawStart: rawStartA, raw2: rawA2, rawStart2: rawStartA2,
  core: { text: 'Ni 2p', x: 330, y: 33, size: 17 },
  ions: [
    { base: 'Ni', sup: '3+', x: 240, y: 57, size: 17, color: '#3da23d' },
    { base: 'Ni', sup: '2+', x: 317, y: 57, size: 17, color: '#463f8c' }
  ],
  legend: { x0: 43, x1: 77, tx: 82, rows: [
    { kind: 'dot', y: 33, label: 'Raw Intensity' },
    { kind: 'line', y: 52, label: 'Peak Sum', color: '#111', width: 1.5 },
    { kind: 'line', y: 71, label: 'Background', color: '#111', width: 1.5 },
    { kind: 'swatch', y: 94, label: 'Ni', sup: '2+', grad: 'sNi2' },
    { kind: 'swatch', y: 112, label: 'Ni', sup: '3+', grad: 'sNi3' }
  ] }
});

drawPanel({
  id: 'b', left: 431, top: 19, right: 813, bottom: 293, domain: [792, 771.8],
  ticks: ticksCo, minor: minorCo, yTitleX: 425, letter: [411, 35],
  markers: [{ e: peaksB[0], top: 95.3, color: '#8c6c9c', width: 1.2 }],
  lines: [
    { e: coGridB, v: bgB, color: '#1e1e1e', width: 1.3 },
    { e: coGridB, v: sumB, color: '#7b4a8c', width: 1.3 }
  ],
  raw: rawB, rawStart: rawStartB, raw2: rawB2, rawStart2: rawStartB2,
  core: { text: 'Co 2p', x: 748, y: 38, size: 16 },
  ions: [{ base: 'Co', sup: '3+', x: 672, y: 58, size: 17, color: '#6b3a8d' }],
  legend: { x0: 439, x1: 472, tx: 478, rows: [
    { kind: 'dot', y: 38, label: 'Raw Intensity' },
    { kind: 'line', y: 57, label: 'Peak Sum', color: '#7b4a8c', width: 1.3 },
    { kind: 'line', y: 76, label: 'Background', color: '#222', width: 1.3 }
  ] }
});

drawPanel({
  id: 'c', left: 853, top: 19, right: 1213, bottom: 292, domain: [651.1, 633.1],
  ticks: ticksMn, minor: minorMn, yTitleX: 842, letter: [834, 30],
  markers: [{ e: peaksC[0], top: 81.3, color: '#4a4a4a', width: 1.3 }],
  lines: [
    { e: mnGridC, v: bgC, color: '#1e1e1e', width: 1.3 },
    { e: mnGridC, v: sumC, color: '#8c8a48', width: 1.3 }
  ],
  raw: rawC, rawStart: rawStartC, raw2: rawC2, rawStart2: rawStartC2,
  core: { text: 'Mn 2p', x: 1151, y: 42, size: 16 },
  ions: [{ base: 'Mn', sup: '4+', x: 1052, y: 65, size: 16, color: '#7f7d3d' }],
  legend: { x0: 863, x1: 897, tx: 901, rows: [
    { kind: 'dot', y: 37, label: 'Raw Intensity' },
    { kind: 'line', y: 56, label: 'Peak Sum', color: '#8c8a48', width: 1.3 },
    { kind: 'line', y: 75, label: 'Background', color: '#222', width: 1.3 }
  ] }
});

drawPanel({
  id: 'd', left: 41, top: 359, right: 386, bottom: 630, domain: [869, 850],
  ticks: ticksNi, minor: minorNi, yTitleX: 32, letter: [20, 375],
  grid: niGrid,
  fills: [
    { base: bgD, top: ni3D, grad: 'gNi3d' },
    { base: bgD, top: ni2D, grad: 'gNi2d' }
  ],
  markers: [
    { e: peaksD[0], top: 93, color: '#4b7a4b', width: 1.3 },
    { e: peaksD[1], top: 93, color: '#3e3a58', width: 1.3 }
  ],
  lines: [
    { e: linGrid, v: linD, color: '#3b7c82', width: 1.3 },
    { e: niGrid, v: bgD, color: '#34403f', width: 1.8 },
    { e: niGrid, v: satD, color: '#8a8445', width: 1.3 },
    { e: niGrid, v: ni3D, color: '#3f8a5e', width: 1.3 },
    { e: niGrid, v: ni2D, color: '#5b4c9e', width: 1.3 },
    { e: niGrid, v: sumD, color: '#858595', width: 1.2 }
  ],
  raw: rawD, rawStart: rawStartD, raw2: rawD2, rawStart2: rawStartD2,
  core: { text: 'Ni 2p', x: 328, y: 377, size: 17 },
  ions: [
    { base: 'Ni', sup: '3+', x: 250, y: 403, size: 17, color: '#3f8f6a' },
    { base: 'Ni', sup: '2+', x: 325, y: 403, size: 17, color: '#4c3c7a' }
  ],
  legend: { x0: 55, x1: 88, tx: 95, rows: [
    { kind: 'dot', y: 377, label: 'Raw Intensity' },
    { kind: 'line', y: 396, label: 'Peak Sum', color: '#999', width: 1 },
    { kind: 'line', y: 415, label: 'Background', color: '#999', width: 1 },
    { kind: 'swatch', y: 436, label: 'Ni', sup: '2+', grad: 'sNi2' },
    { kind: 'swatch', y: 455, label: 'Ni', sup: '3+', grad: 'sNi3' }
  ] }
});

drawPanel({
  id: 'e', left: 438, top: 363, right: 815, bottom: 633, domain: [792.1, 772],
  ticks: ticksCo, minor: minorCo, yTitleX: 432, letter: [417, 368],
  markers: [{ e: peaksE[0], top: 92.6, color: '#6a4a8c', width: 1.2 }],
  lines: [
    { e: bgGridE, v: bgE, color: '#1e1e1e', width: 1.3 },
    { e: coGridE, v: sumE, color: '#5e3a80', width: 1.4 }
  ],
  raw: rawE, rawStart: rawStartE, raw2: rawE2, rawStart2: rawStartE2,
  core: { text: 'Co 2p', x: 749, y: 383, size: 16 },
  ions: [{ base: 'Co', sup: '3+', x: 679, y: 402, size: 17, color: '#5b2c7c' }],
  legend: { x0: 450, x1: 482, tx: 488, rows: [
    { kind: 'dot', y: 383, label: 'Raw Intensity' },
    { kind: 'line', y: 402, label: 'Peak Sum', color: '#6a4a8c', width: 1.3 },
    { kind: 'line', y: 421, label: 'Background', color: '#222', width: 1.3 }
  ] }
});

drawPanel({
  id: 'f', left: 855, top: 363, right: 1214, bottom: 632, domain: [651, 633.4],
  ticks: ticksMn, minor: minorMn, yTitleX: 847, letter: [838, 375],
  markers: [{ e: peaksF[0], top: 80, color: '#7d7a3a', width: 1.3 }],
  lines: [
    { e: mnGridF, v: bgF, color: '#1e1e1e', width: 1.3 },
    { e: mnGridF, v: sumF, color: '#8a8840', width: 1.3 }
  ],
  raw: rawF, rawStart: rawStartF, raw2: rawF2, rawStart2: rawStartF2,
  core: { text: 'Mn 2p', x: 1155, y: 380, size: 16 },
  ions: [{ base: 'Mn', sup: '4+', x: 1052, y: 405, size: 16, color: '#7f7d3d' }],
  legend: { x0: 862, x1: 896, tx: 900, rows: [
    { kind: 'dot', y: 382, label: 'Raw Intensity' },
    { kind: 'line', y: 400, label: 'Peak Sum', color: '#8a8840', width: 1.3 },
    { kind: 'line', y: 418, label: 'Background', color: '#222', width: 1.3 }
  ] }
});
</script>
</body>
</html>
